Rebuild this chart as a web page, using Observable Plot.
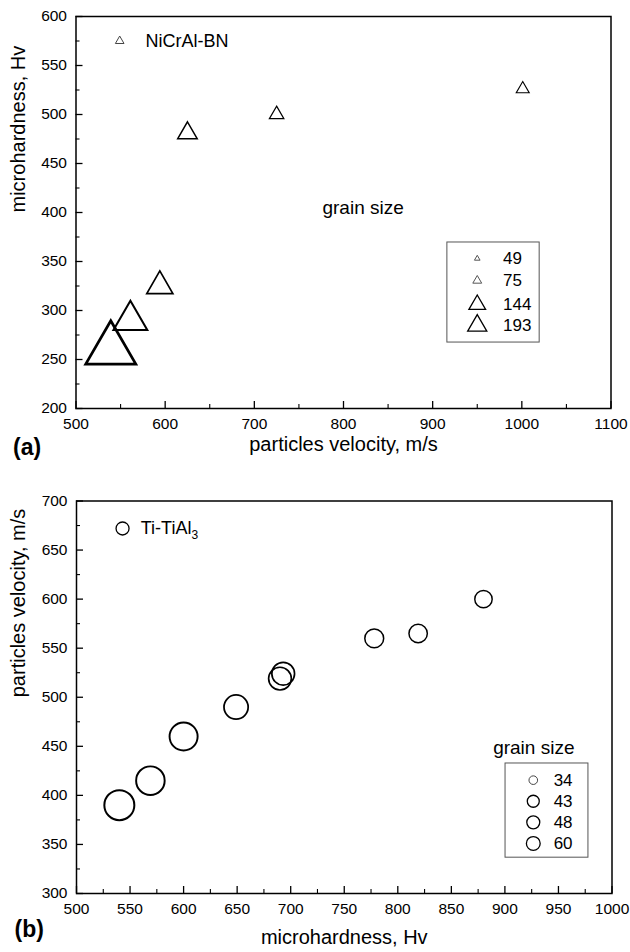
<!DOCTYPE html>
<html><head><meta charset="utf-8">
<script src="https://cdn.jsdelivr.net/npm/d3@7"></script>
<script src="https://cdn.jsdelivr.net/npm/@observablehq/plot@0.6"></script>
<style>
html,body{margin:0;padding:0;background:#fff;}
#chart{width:630px;}
#chart svg{display:block;}
</style></head><body><div id="chart"></div>
<script>
// ---------- Panel (a): NiCrAl-BN ----------
const velocityA = [1001, 725, 625, 594, 561, 539];
const hardnessA = [526, 500, 481, 325, 290, 260];
const grainA    = [49, 55, 75, 100, 130, 193];
const legendA   = [49, 75, 144, 193];
const xMajorA = [500, 600, 700, 800, 900, 1000, 1100];
const xMinorA = [550, 650, 750, 850, 950, 1050];
const yMajorA = [200, 250, 300, 350, 400, 450, 500, 550, 600];
const yMinorA = [225, 275, 325, 375, 425, 475, 525, 575];

// ---------- Panel (b): Ti-TiAl3 ----------
const hardnessB = [540, 569, 600, 649, 690, 693, 778, 819, 880];
const velocityB = [390, 415, 460, 490, 519, 524, 560, 565, 600];
const grainB    = [60, 57, 56, 48, 45, 45, 37, 36, 34];
const legendB   = [34, 43, 48, 60];
const xMajorB = [500, 550, 600, 650, 700, 750, 800, 850, 900, 950, 1000];
const xMinorB = [525, 575, 625, 675, 725, 775, 825, 875, 925, 975];
const yMajorB = [300, 350, 400, 450, 500, 550, 600, 650, 700];
const yMinorB = [325, 375, 425, 475, 525, 575, 625, 675];

const FONT = "'Liberation Sans', Arial, Helvetica, sans-serif";
const dataA = velocityA.map((v, i) => ({v, h: hardnessA[i], g: grainA[i]}));
const dataB = hardnessB.map((h, i) => ({h, v: velocityB[i], g: grainB[i]}));
const fmt = d => String(d);

function tickMarks(xMaj, xMin, yMaj, yMin, fw, fh) {
  return [
    Plot.ruleX(xMaj, {x: d => d, insetTop: fh - 7, stroke: "black", strokeWidth: 1.3}),
    Plot.ruleX(xMin, {x: d => d, insetTop: fh - 4, stroke: "black", strokeWidth: 1.1}),
    Plot.ruleY(yMaj, {y: d => d, insetRight: fw - 7, stroke: "black", strokeWidth: 1.3}),
    Plot.ruleY(yMin, {y: d => d, insetRight: fw - 4, stroke: "black", strokeWidth: 1.1})
  ];
}

// ---------- Plot (a) ----------
const WA = 630, HA = 470, mLA = 75.5, mRA = 19.5, mTA = 16, mBA = 62;
const fwA = WA - mLA - mRA, fhA = HA - mTA - mBA;
const legRA = d3.scaleLinear().domain([49, 75, 144, 193]).range([2.1, 3.3, 6.2, 7.1]);
const rowsA = [353, 330.5, 306, 284.5];

const plotA = Plot.plot({
  width: WA, height: HA,
  marginLeft: mLA, marginRight: mRA, marginTop: mTA, marginBottom: mBA,
  style: {fontFamily: FONT, fontSize: "15px", color: "black", background: "white"},
  x: {domain: [500, 1100]},
  y: {domain: [200, 600]},
  r: {type: "linear", domain: [49, 193], range: [4.8, 18.6]},
  marks: [
    Plot.axisX({ticks: xMajorA, tickFormat: fmt, tickSize: 0, tickPadding: 9, label: null, fontSize: 15.5}),
    Plot.axisY({ticks: yMajorA, tickFormat: fmt, tickSize: 0, tickPadding: 9, label: null, fontSize: 15.5}),
    ...tickMarks(xMajorA, xMinorA, yMajorA, yMinorA, fwA, fhA),
    Plot.frame({stroke: "black", strokeWidth: 1.5}),
    Plot.dot(dataA, {x: "v", y: "h", r: "g", symbol: "triangle", stroke: "black", fill: "none",
      strokeWidth: d => 0.6 + d.g * 0.011}),
    // series label
    Plot.dot([0], {x: 549, y: 575, r: 3.2, symbol: "triangle", stroke: "#444", strokeWidth: 1, fill: "none"}),
    Plot.text(["NiCrAl-BN"], {x: 578, y: 575, textAnchor: "start", fontSize: 18}),
    Plot.text(["grain size"], {x: 822, y: 405, fontSize: 19}),
    // legend
    Plot.rect([0], {x1: 916.5, x2: 1020, y1: 267.3, y2: 369.4, fill: "white", stroke: "#555", strokeWidth: 1}),
    ...legendA.map((g, i) => Plot.dot([g], {x: 950, y: rowsA[i], r: legRA(g), symbol: "triangle", fill: "none",
      stroke: g < 100 ? "#555" : "black", strokeWidth: g < 100 ? 1 : 1.3})),
    Plot.text(legendA, {x: 979, y: (d, i) => rowsA[i], text: d => String(d), textAnchor: "start", fontSize: 17}),
    // titles
    Plot.text(["particles velocity, m/s"], {frameAnchor: "bottom", dy: 42, fontSize: 20}),
    Plot.text(["microhardness, Hv"], {frameAnchor: "left", dx: -57.5, rotate: -90, fontSize: 20}),
    Plot.text(["(a)"], {frameAnchor: "bottom-left", dx: -63, dy: 46, textAnchor: "start", fontSize: 23, fontWeight: "bold"})
  ]
});

// ---------- Plot (b) ----------
const WB = 630, HB = 482, mLB = 76, mRB = 18.5, mTB = 30.5, mBB = 59;
const fwB = WB - mLB - mRB, fhB = HB - mTB - mBB;
const legRB = d3.scaleLinear().domain([34, 43, 48, 60]).range([4.3, 6, 6.5, 6.9]);
const rowsB = [415.5, 394, 372.5, 351];

const plotB = Plot.plot({
  width: WB, height: HB,
  marginLeft: mLB, marginRight: mRB, marginTop: mTB, marginBottom: mBB,
  style: {fontFamily: FONT, fontSize: "15px", color: "black", background: "white"},
  x: {domain: [500, 1000]},
  y: {domain: [300, 700]},
  r: {type: "linear", domain: [34, 60], range: [8.7, 15]},
  marks: [
    Plot.axisX({ticks: xMajorB, tickFormat: fmt, tickSize: 0, tickPadding: 9, label: null, fontSize: 15.5}),
    Plot.axisY({ticks: yMajorB, tickFormat: fmt, tickSize: 0, tickPadding: 9, label: null, fontSize: 15.5}),
    ...tickMarks(xMajorB, xMinorB, yMajorB, yMinorB, fwB, fhB),
    Plot.frame({stroke: "black", strokeWidth: 1.5}),
    Plot.dot(dataB, {x: "h", y: "v", r: "g", stroke: "black", fill: "none",
      strokeWidth: d => 0.7 + d.g * 0.022}),
    // series label
    Plot.dot([0], {x: 543, y: 672, r: 6.5, stroke: "black", strokeWidth: 1.3, fill: "none"}),
    Plot.text(["Ti-TiAl3"], {x: 560, y: 672, textAnchor: "start", fontSize: 18}),
    Plot.text(["grain size"], {x: 927, y: 448, fontSize: 19}),
    // legend
    Plot.rect([0], {x1: 900.6, x2: 978, y1: 336.5, y2: 432.5, fill: "white", stroke: "#555", strokeWidth: 1}),
    ...legendB.map((g, i) => Plot.dot([g], {x: 926.5, y: rowsB[i], r: legRB(g), fill: "none",
      stroke: g < 40 ? "#444" : "black", strokeWidth: g < 40 ? 1 : 1.3})),
    Plot.text(legendB, {x: 945.5, y: (d, i) => rowsB[i], text: d => String(d), textAnchor: "start", fontSize: 17}),
    // titles
    Plot.text(["microhardness, Hv"], {frameAnchor: "bottom", dy: 50, fontSize: 20}),
    Plot.text(["particles velocity, m/s"], {frameAnchor: "left", dx: -58, rotate: -90, fontSize: 20}),
    Plot.text(["(b)"], {frameAnchor: "bottom-left", dx: -62, dy: 43, textAnchor: "start", fontSize: 23, fontWeight: "bold"})
  ]
});

const host = document.getElementById("chart");
host.appendChild(plotA);
host.appendChild(plotB);

// subscript in Ti-TiAl3
plotB.querySelectorAll("text").forEach(t => {
  if (t.textContent === "Ti-TiAl3") {
    t.innerHTML = 'Ti-TiAl<tspan dy="5" font-size="12">3</tspan>';
  }
});
</script>
</body></html>
